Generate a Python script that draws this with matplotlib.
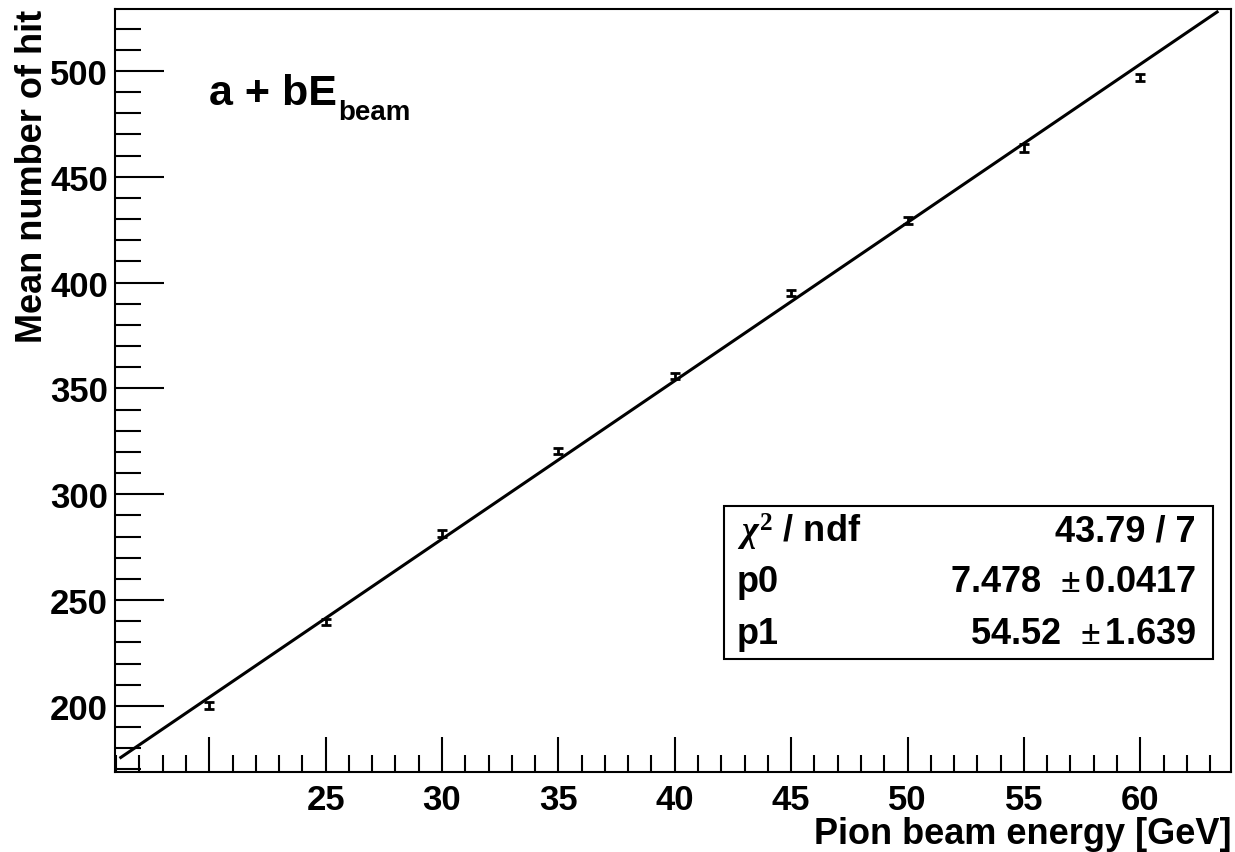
import numpy as np
import matplotlib.pyplot as plt
from matplotlib.ticker import MultipleLocator, FixedLocator, FixedFormatter

# beam energies [GeV] and mean hit counts
energy = [20, 25, 30, 35, 40, 45, 50, 55, 60]
mean_hit = [200.2, 239.7, 281.3, 320.5, 355.9, 395.1, 429.3, 463.6, 496.9]
mean_err = [1.6, 1.6, 1.6, 1.6, 1.6, 1.6, 1.6, 1.7, 1.8]

# linear fit result: y = p0 * E + p1
p0, p0_err = 7.478, 0.0417
p1, p1_err = 54.52, 1.639
chi2, ndf = 43.79, 7
fit_range = (16.2, 63.3)

plt.rcParams['font.family'] = ['Liberation Sans', 'DejaVu Sans']
plt.rcParams['font.weight'] = 'bold'
plt.rcParams['mathtext.fontset'] = 'custom'
plt.rcParams['mathtext.rm'] = 'Liberation Serif'
plt.rcParams['mathtext.it'] = 'Liberation Serif:italic'

fig = plt.figure(figsize=(12.35, 8.53), dpi=100)
W, H = fig.get_size_inches() * fig.dpi
ax = fig.add_axes([0.0931, 0.0938, 0.9037, 0.8945])

xf = np.linspace(fit_range[0], fit_range[1], 200)
ax.plot(xf, p0 * xf + p1, color='black', lw=2.2)
ax.errorbar(energy, mean_hit, yerr=mean_err, fmt='none', ecolor='black',
            elinewidth=2.0, capsize=3.5, capthick=2.0)

ax.set_xlim(15.95, 63.9)
ax.set_ylim(168.8, 529.3)

ax.xaxis.set_major_locator(FixedLocator([20, 25, 30, 35, 40, 45, 50, 55, 60]))
ax.xaxis.set_major_formatter(FixedFormatter(['', '25', '30', '35', '40', '45', '50', '55', '60']))
ax.xaxis.set_minor_locator(MultipleLocator(1))
ax.yaxis.set_major_locator(MultipleLocator(50))
ax.yaxis.set_minor_locator(MultipleLocator(10))

ax.tick_params(axis='x', which='major', direction='in', length=25, width=1.5,
               labelsize=25, pad=8)
ax.tick_params(axis='x', which='minor', direction='in', length=12, width=1.5)
ax.tick_params(axis='y', which='major', direction='in', length=35, width=1.5,
               labelsize=25, pad=5)
ax.tick_params(axis='y', which='minor', direction='in', length=19, width=1.5)
for lab in ax.get_xticklabels() + ax.get_yticklabels():
    lab.set_fontweight('bold')
for s in ax.spines.values():
    s.set_linewidth(1.5)

ax.set_xlabel('Pion beam energy [GeV]', fontsize=26, fontweight='bold', loc='right', labelpad=0)
ax.set_ylabel('Mean number of hit', fontsize=26, fontweight='bold', loc='top', labelpad=0)

# formula label: main part plus subscript
main = fig.text(209 / W, 1 - 105 / H, 'a + bE', fontsize=31, fontweight='bold',
                ha='left', va='baseline')
renderer = fig.canvas.get_renderer()
ext = main.get_window_extent(renderer)
fig.text((ext.x1 + 1) / W, 1 - 120 / H, 'beam', fontsize=20, fontweight='bold',
         ha='left', va='baseline')

# fit statistics box
bx0, by0, bx1, by1 = 724, 507, 1213, 660
box = plt.Rectangle((bx0 / W, 1 - by1 / H), (bx1 - bx0) / W, (by1 - by0) / H,
                    transform=fig.transFigure, fill=True, facecolor='white',
                    edgecolor='black', lw=1.5, zorder=5)
fig.patches.append(box)
rows = [
    (r'$\chi^{2}$ / ndf', f'{chi2:.2f} / {ndf}'),
    ('p0', f'{p0:.3f}  $\\pm\\,${p0_err:.4f}'),
    ('p1', f'{p1:.2f}  $\\pm\\,${p1_err:.3f}'),
]
ys = [532, 583, 634]
for (left, right), yy in zip(rows, ys):
    fig.text(737 / W, 1 - yy / H, left, fontsize=26, fontweight='bold',
             va='center', ha='left', zorder=6)
    fig.text(1196 / W, 1 - yy / H, right, fontsize=26, fontweight='bold',
             va='center', ha='right', zorder=6)

fig.savefig('out.png', dpi=100)
